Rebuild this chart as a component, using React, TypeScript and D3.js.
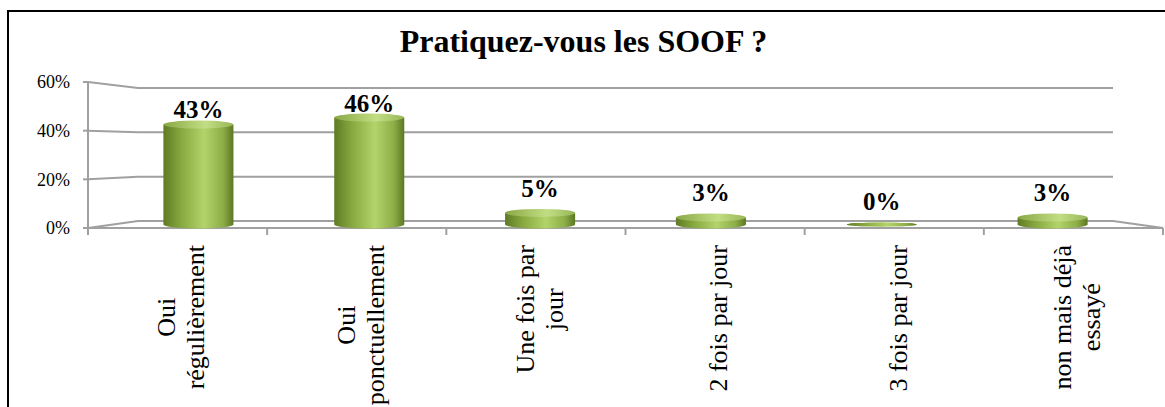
import React from 'react';
import * as d3 from 'd3';

const categories = [
  ['Oui', 'régulièrement'],
  ['Oui', 'ponctuellement'],
  ['Une fois par', 'jour'],
  ['2 fois par jour'],
  ['3 fois par jour'],
  ['non mais déjà', 'essayé'],
];
const values = [43, 46, 5, 3, 0, 3];
const yTicks = [0, 20, 40, 60];
const title = 'Pratiquez-vous les SOOF ?';

const W = 1165;
const H = 407;
const serif = 'Liberation Serif';

// front plane, back wall and mid-depth (where the cylinders stand)
const frontX = [88, 1163];
const backX = [138, 1113];
const yFront = d3.scaleLinear().domain([0, 60]).range([228, 82]);
const yBack = d3.scaleLinear().domain([0, 60]).range([221, 88]);
const yMid = d3.scaleLinear().domain([0, 60]).range([224.5, 85]);

const idx = categories.map((_, i) => i);
const xFront = d3.scaleBand<number>().domain(idx).range(frontX);
const xMid = d3.scaleBand<number>().domain(idx).range([113, 1138]).paddingInner(0.59).paddingOuter(0.295);

function measure(text: string, font: string) {
  const c = document.createElement('canvas').getContext('2d');
  if (!c) return text.length * 12;
  c.font = font;
  return c.measureText(text).width;
}

const grid = '#a0a0a0';

export default function App() {
  const labelFont = `26px "${serif}"`;
  const lineH = 29;
  const labelTop = 245;
  const bw = xMid.bandwidth();

  return (
    <svg width={W} height={H} style={{ position: 'absolute', left: 0, top: 0, background: '#fff' }}>
      <defs>
        <linearGradient id="cyl" x1="0" x2="1" y1="0" y2="0">
          <stop offset="0%" stopColor="#5f7b25" />
          <stop offset="25%" stopColor="#86a83e" />
          <stop offset="58%" stopColor="#b3d36b" />
          <stop offset="85%" stopColor="#8dae47" />
          <stop offset="100%" stopColor="#5c7822" />
        </linearGradient>
        <linearGradient id="cap" x1="0" x2="1" y1="0" y2="0">
          <stop offset="0%" stopColor="#8aa845" />
          <stop offset="60%" stopColor="#c2de84" />
          <stop offset="100%" stopColor="#98b658" />
        </linearGradient>
      </defs>

      <rect x={8} y={11} width={W + 20} height={H + 20} fill="none" stroke="#000" strokeWidth={2} />

      <text x={W / 2 + 1} y={52} textAnchor="middle" fontWeight="bold" fontSize={32} style={{ fontFamily: serif }}>
        {title}
      </text>

      {/* walls */}
      {yTicks.map(t => (
        <g key={t}>
          <polyline
            points={`${frontX[0]},${yFront(t)} ${backX[0]},${yBack(t)} ${backX[1]},${yBack(t)}`}
            fill="none" stroke={grid} strokeWidth={2}
          />
          <line x1={frontX[0] - 5} x2={frontX[0]} y1={yFront(t)} y2={yFront(t)} stroke={grid} strokeWidth={2} />
          <text x={70} y={yFront(t)} dy="0.35em" textAnchor="end" fontSize={18} style={{ fontFamily: serif }}>
            {t}%
          </text>
        </g>
      ))}
      <polyline
        points={`${backX[1]},${yBack(0)} ${frontX[1]},${yFront(0)} ${frontX[0]},${yFront(0)} ${frontX[0]},${yFront(60)}`}
        fill="none" stroke={grid} strokeWidth={2}
      />
      {[...idx, idx.length].map(i => {
        const x = i < idx.length ? xFront(i)! : frontX[1];
        return <line key={i} x1={x} x2={x} y1={yFront(0)} y2={yFront(0) + 7} stroke={grid} strokeWidth={2} />;
      })}

      {/* cylinders */}
      {values.map((v, i) => {
        const x = xMid(i)!;
        const cx = x + bw / 2;
        const y0 = yMid(0);
        const y1 = yMid(v);
        const ry = v === 0 ? 2 : 4;
        return (
          <g key={i}>
            <ellipse cx={cx} cy={y0} rx={bw / 2} ry={ry} fill="url(#cyl)" />
            {v > 0 && <rect x={x} y={y1} width={bw} height={y0 - y1} fill="url(#cyl)" />}
            <ellipse cx={cx} cy={y1} rx={bw / 2} ry={ry} fill={v === 0 ? 'url(#cyl)' : 'url(#cap)'} />
            <text
              x={cx} y={y1 - 17 + v * 0.25 + (v === 0 ? 2 : 0)}
              textAnchor="middle" fontWeight="bold" fontSize={25} style={{ fontFamily: serif }}
            >
              {v}%
            </text>
          </g>
        );
      })}

      {/* category labels */}
      {categories.map((lines, i) => {
        const cx = xFront(i)! + xFront.bandwidth() / 2 + 4;
        const maxW = d3.max(lines, l => measure(l, labelFont)) || 0;
        return (
          <g key={i} transform={`translate(${cx},${labelTop}) rotate(-90)`}>
            {lines.map((l, j) => (
              <text
                key={j}
                x={-maxW / 2}
                y={(j - (lines.length - 1) / 2) * lineH}
                dy="0.32em"
                textAnchor="middle"
                fontSize={26}
                style={{ fontFamily: serif }}
              >
                {l}
              </text>
            ))}
          </g>
        );
      })}
    </svg>
  );
}
